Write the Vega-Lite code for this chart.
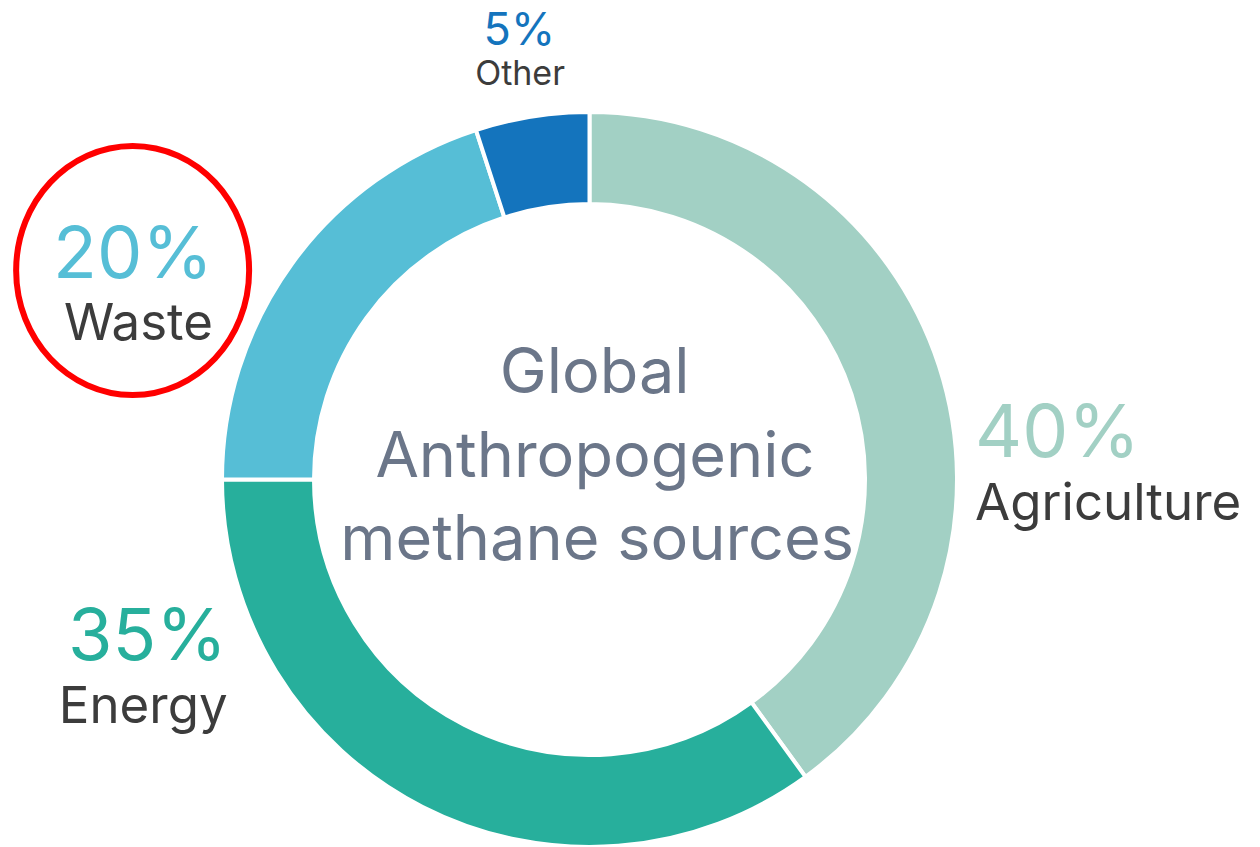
{
  "$schema": "https://vega.github.io/schema/vega-lite/v6.json",
  "autosize": {"type": "none"},
  "padding": {"left": 0, "top": 112, "right": 81, "bottom": 0},
  "width": 1179,
  "height": 735,
  "background": "white",
  "config": {"view": {"stroke": null}},
  "datasets": {
    "slices": [
      {"source": "Agriculture", "share": 40, "idx": 1},
      {"source": "Energy", "share": 35, "idx": 2},
      {"source": "Waste", "share": 20, "idx": 3},
      {"source": "Other", "share": 5, "idx": 4}
    ],
    "labels": [
      {"source": "Agriculture", "kind": "value", "text": "40%", "lx": 105.5, "ly": 6.2},
      {"source": "Agriculture", "kind": "name", "text": "Agriculture", "lx": 105.5, "ly": -11.1},
      {"source": "Energy", "kind": "value", "text": "35%", "lx": -99.2, "ly": -49.4},
      {"source": "Energy", "kind": "name", "text": "Energy", "lx": -99.0, "ly": -66.6},
      {"source": "Waste", "kind": "value", "text": "20%", "lx": -103.0, "ly": 55.1},
      {"source": "Waste", "kind": "name", "text": "Waste", "lx": -103.0, "ly": 38.2},
      {"source": "Other", "kind": "value", "text": "5%", "lx": -19.2, "ly": 119.0},
      {"source": "Other", "kind": "name", "text": "Other", "lx": -19.0, "ly": 107.9},
      {"source": "Title", "kind": "title", "text": "Global", "lx": 1.4, "ly": 23.7},
      {"source": "Title", "kind": "title", "text": "Anthropogenic", "lx": 1.5, "ly": 0.7},
      {"source": "Title", "kind": "title", "text": "methane sources", "lx": 2.1, "ly": -22.0},
      {"source": "Waste", "kind": "highlight", "text": "", "lx": -125.0, "ly": 57.2}
    ]
  },
  "layer": [
    {
      "data": {"name": "slices"},
      "mark": {"type": "arc", "outerRadius": 367.5, "innerRadius": 275.5, "stroke": "white", "strokeWidth": 4},
      "encoding": {
        "theta": {"field": "share", "type": "quantitative", "stack": true},
        "order": {"field": "idx", "type": "quantitative"},
        "color": {
          "field": "source", "type": "nominal", "legend": null,
          "scale": {"domain": ["Agriculture", "Energy", "Waste", "Other"], "range": ["#A2D0C4", "#27AF9C", "#56BED6", "#1474BD"]}
        }
      }
    },
    {
      "data": {"name": "labels"},
      "transform": [{"filter": "datum.kind === 'value' && datum.source === 'Agriculture'"}],
      "mark": {"type": "text", "font": "Inter", "fontSize": 73, "align": "left", "baseline": "alphabetic"},
      "encoding": {
        "x": {"field": "lx", "type": "quantitative", "axis": null, "scale": {"domain": [-161.29, 161.29], "nice": false, "zero": false}},
        "y": {"field": "ly", "type": "quantitative", "axis": null, "scale": {"domain": [-100.55, 100.55], "nice": false, "zero": false}},
        "text": {"field": "text"},
        "color": {"field": "source", "type": "nominal", "legend": null}
      }
    },
    {
      "data": {"name": "labels"},
      "transform": [{"filter": "datum.kind === 'value' && (datum.source === 'Energy' || datum.source === 'Waste')"}],
      "mark": {"type": "text", "font": "Inter", "fontSize": 72, "align": "right", "baseline": "alphabetic"},
      "encoding": {
        "x": {"field": "lx", "type": "quantitative", "axis": null},
        "y": {"field": "ly", "type": "quantitative", "axis": null},
        "text": {"field": "text"},
        "color": {"field": "source", "type": "nominal", "legend": null}
      }
    },
    {
      "data": {"name": "labels"},
      "transform": [{"filter": "datum.kind === 'value' && datum.source === 'Other'"}],
      "mark": {"type": "text", "font": "Inter", "fontSize": 45, "align": "center", "baseline": "alphabetic"},
      "encoding": {
        "x": {"field": "lx", "type": "quantitative", "axis": null},
        "y": {"field": "ly", "type": "quantitative", "axis": null},
        "text": {"field": "text"},
        "color": {"field": "source", "type": "nominal", "legend": null}
      }
    },
    {
      "data": {"name": "labels"},
      "transform": [{"filter": "datum.kind === 'name' && datum.source === 'Agriculture'"}],
      "mark": {"type": "text", "font": "Inter", "fontSize": 51, "align": "left", "baseline": "alphabetic", "color": "#3C3C3C"},
      "encoding": {
        "x": {"field": "lx", "type": "quantitative", "axis": null},
        "y": {"field": "ly", "type": "quantitative", "axis": null},
        "text": {"field": "text"}
      }
    },
    {
      "data": {"name": "labels"},
      "transform": [{"filter": "datum.kind === 'name' && (datum.source === 'Energy' || datum.source === 'Waste')"}],
      "mark": {"type": "text", "font": "Inter", "fontSize": 51, "align": "right", "baseline": "alphabetic", "color": "#3C3C3C"},
      "encoding": {
        "x": {"field": "lx", "type": "quantitative", "axis": null},
        "y": {"field": "ly", "type": "quantitative", "axis": null},
        "text": {"field": "text"}
      }
    },
    {
      "data": {"name": "labels"},
      "transform": [{"filter": "datum.kind === 'name' && datum.source === 'Other'"}],
      "mark": {"type": "text", "font": "Inter", "fontSize": 34, "align": "center", "baseline": "alphabetic", "color": "#3C3C3C"},
      "encoding": {
        "x": {"field": "lx", "type": "quantitative", "axis": null},
        "y": {"field": "ly", "type": "quantitative", "axis": null},
        "text": {"field": "text"}
      }
    },
    {
      "data": {"name": "labels"},
      "transform": [{"filter": "datum.kind === 'title'"}],
      "mark": {"type": "text", "font": "Inter", "fontSize": 63, "align": "center", "baseline": "alphabetic", "color": "#6B7689"},
      "encoding": {
        "x": {"field": "lx", "type": "quantitative", "axis": null},
        "y": {"field": "ly", "type": "quantitative", "axis": null},
        "text": {"field": "text"}
      }
    },
    {
      "data": {"name": "labels"},
      "transform": [{"filter": "datum.kind === 'highlight'"}],
      "mark": {"type": "point", "shape": "M -1 0 A 1 1.069 0 1 0 1 0 A 1 1.069 0 1 0 -1 0 Z", "size": 54289, "filled": false, "stroke": "#FF0000", "strokeWidth": 6, "opacity": 1},
      "encoding": {
        "x": {"field": "lx", "type": "quantitative", "axis": null},
        "y": {"field": "ly", "type": "quantitative", "axis": null}
      }
    }
  ]
}
